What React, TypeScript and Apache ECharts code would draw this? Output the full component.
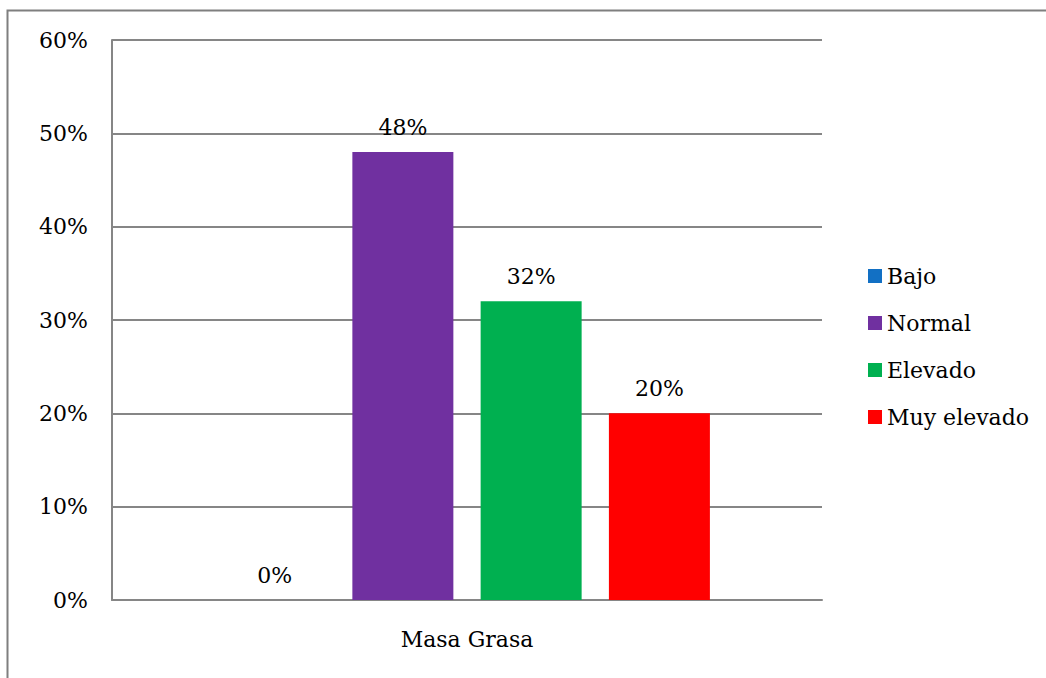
import React, { useEffect, useRef } from "react";
import * as echarts from "echarts";

const categories = ["Masa Grasa"];
const seriesNames = ["Bajo", "Normal", "Elevado", "Muy elevado"];
const seriesValues = [[0], [48], [32], [20]];
const seriesColors = ["#1270C4", "#7030A0", "#00B050", "#FF0000"];
const yTicks = [0, 10, 20, 30, 40, 50, 60];

const FONT = "'DejaVu Serif', serif";
const FS = 22;

export default function App() {
  const ref = useRef<HTMLDivElement>(null);

  useEffect(() => {
    if (!ref.current) return;
    const chart = echarts.init(ref.current, null, { renderer: "svg" });
    chart.setOption({
      animation: false,
      textStyle: { fontFamily: FONT, color: "#000" },
      graphic: [
        {
          type: "rect",
          shape: { x: 7.5, y: 10.5, width: 1100, height: 700 },
          style: { fill: "none", stroke: "#7f7f7f", lineWidth: 2 },
          silent: true,
        },
      ],
      grid: { left: 112, right: 224, top: 40, bottom: 78, containLabel: false },
      legend: {
        orient: "vertical",
        left: 863,
        top: 260,
        itemWidth: 14,
        itemHeight: 14,
        itemGap: 25,
        icon: "rect",
        textStyle: { fontFamily: FONT, fontSize: FS, color: "#000", padding: [0, 0, 0, 0] },
        data: seriesNames,
      },
      xAxis: {
        type: "category",
        data: categories,
        axisLine: { show: true, lineStyle: { color: "#868686", width: 2 } },
        axisTick: { show: false },
        axisLabel: { fontFamily: FONT, fontSize: FS, color: "#000", margin: 28 },
      },
      yAxis: {
        type: "value",
        min: yTicks[0],
        max: yTicks[yTicks.length - 1],
        interval: 10,
        axisLine: { show: true, lineStyle: { color: "#868686", width: 2 } },
        axisTick: { show: false },
        splitLine: { show: true, lineStyle: { color: "#868686", width: 2 } },
        axisLabel: {
          fontFamily: FONT,
          fontSize: FS,
          color: "#000",
          margin: 24,
          formatter: (v: number) => `${v}%`,
        },
      },
      series: seriesNames.map((name, i) => ({
        name,
        type: "bar",
        data: seriesValues[i],
        barWidth: 101,
        barGap: "27%",
        itemStyle: { color: seriesColors[i] },
        label: {
          show: true,
          position: "top",
          distance: 14,
          fontFamily: FONT,
          fontSize: FS,
          color: "#000",
          formatter: (p: any) => `${p.value}%`,
        },
      })),
    });
    return () => chart.dispose();
  }, []);

  return (
    <div
      ref={ref}
      style={{ position: "fixed", left: 0, top: 0, width: 1046, height: 678, background: "#fff" }}
    />
  );
}
